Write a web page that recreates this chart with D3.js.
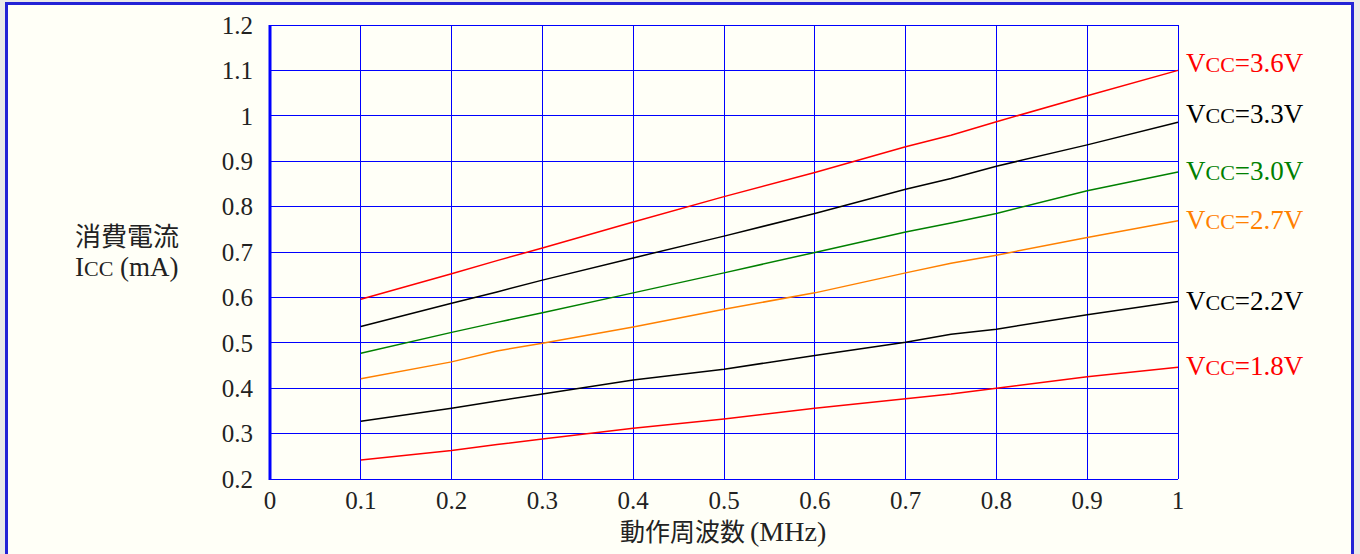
<!DOCTYPE html>
<html>
<head>
<meta charset="utf-8">
<script src="https://cdn.jsdelivr.net/npm/d3@7"></script>
<style>
  html, body { margin: 0; padding: 0; background: #e9e9e9; }
  svg { display: block; }
  text { font-family: "Liberation Serif", "Noto Sans CJK JP", serif; fill: #222; }
  .jp { font-family: "Noto Sans CJK JP", sans-serif; }
</style>
</head>
<body>
<svg id="chart" width="1360" height="554"></svg>
<script>
// operating frequency (MHz)
const freq = [0.1, 0.2, 0.25, 0.3, 0.4, 0.5, 0.6, 0.7, 0.75, 0.8, 0.9, 1.0];

// supply current Icc (mA) for each Vcc
const vcc36 = [0.596, 0.652, 0.681, 0.709, 0.766, 0.822, 0.875, 0.932, 0.957, 0.987, 1.044, 1.100];
const vcc33 = [0.536, 0.587, 0.612, 0.638, 0.687, 0.735, 0.785, 0.838, 0.862, 0.889, 0.936, 0.986];
const vcc30 = [0.477, 0.523, 0.545, 0.566, 0.610, 0.654, 0.699, 0.744, 0.764, 0.785, 0.835, 0.876];
const vcc27 = [0.421, 0.458, 0.482, 0.499, 0.535, 0.574, 0.610, 0.654, 0.675, 0.693, 0.732, 0.769];
const vcc22 = [0.327, 0.356, 0.372, 0.387, 0.418, 0.442, 0.472, 0.501, 0.519, 0.530, 0.562, 0.591];
const vcc18 = [0.242, 0.263, 0.276, 0.288, 0.312, 0.332, 0.356, 0.377, 0.387, 0.400, 0.425, 0.446];

const seriesNames = ["3.6V", "3.3V", "3.0V", "2.7V", "2.2V", "1.8V"];
const seriesValues = [vcc36, vcc33, vcc30, vcc27, vcc22, vcc18];

const xTicks = [0, 0.1, 0.2, 0.3, 0.4, 0.5, 0.6, 0.7, 0.8, 0.9, 1];
const yTicks = [0.2, 0.3, 0.4, 0.5, 0.6, 0.7, 0.8, 0.9, 1.0, 1.1, 1.2];

// styling
const colors = ["#ff0000", "#000000", "#008000", "#ff8000", "#000000", "#ff0000"];
const labelNudge = [-8, -9, -2, -1, -1, -2];

const svg = d3.select("#chart");

// panel with blue frame
svg.append("rect")
  .attr("x", 6.5).attr("y", 3.5)
  .attr("width", 1346).attr("height", 560)
  .attr("fill", "#fffff7")
  .attr("stroke", "#2323d6")
  .attr("stroke-width", 3);

const x = d3.scaleLinear().domain([0, 1]).range([270, 1178]);
const y = d3.scaleLinear().domain([0.2, 1.2]).range([479, 25]);

const grid = svg.append("g").attr("shape-rendering", "crispEdges");

// vertical grid
grid.selectAll("line.v")
  .data(xTicks.slice(1))
  .enter().append("line")
  .attr("class", "v")
  .attr("x1", d => x(d)).attr("x2", d => x(d))
  .attr("y1", y(1.2)).attr("y2", y(0.2))
  .attr("stroke", "#0000ff").attr("stroke-width", 1);

// horizontal grid
grid.selectAll("line.h")
  .data(yTicks)
  .enter().append("line")
  .attr("class", "h")
  .attr("x1", x(0)).attr("x2", x(1))
  .attr("y1", d => y(d)).attr("y2", d => y(d))
  .attr("stroke", "#0000ff").attr("stroke-width", 1);

// thick left axis line
svg.append("line")
  .attr("x1", x(0)).attr("x2", x(0))
  .attr("y1", y(1.2)).attr("y2", y(0.2) + 1)
  .attr("stroke", "#0000ff").attr("stroke-width", 3);

// y tick labels
svg.selectAll("text.yt")
  .data(yTicks)
  .enter().append("text")
  .attr("class", "yt")
  .attr("x", 253)
  .attr("y", d => y(d))
  .attr("dy", "0.35em")
  .attr("text-anchor", "end")
  .attr("font-size", 25)
  .text(d => d3.format("")(+d.toFixed(1)));

// x tick labels
svg.selectAll("text.xt")
  .data(xTicks)
  .enter().append("text")
  .attr("class", "xt")
  .attr("x", d => x(d))
  .attr("y", 509)
  .attr("text-anchor", "middle")
  .attr("font-size", 25)
  .text(d => d3.format("")(+d.toFixed(1)));

// lines
const line = d3.line()
  .x((d, i) => x(freq[i]))
  .y(d => y(d));

svg.selectAll("path.series")
  .data(seriesValues)
  .enter().append("path")
  .attr("class", "series")
  .attr("d", line)
  .attr("fill", "none")
  .attr("stroke", (d, i) => colors[i])
  .attr("stroke-width", 1.5);

// series labels
seriesValues.forEach((vals, i) => {
  const t = svg.append("text")
    .attr("x", 1186)
    .attr("y", y(vals[vals.length - 1]) + labelNudge[i])
    .attr("dy", "0.35em")
    .attr("font-size", 27)
    .style("fill", colors[i]);
  t.append("tspan").text("V");
  t.append("tspan").attr("font-size", 22).text("CC");
  t.append("tspan").text("=" + seriesNames[i]);
});

// y axis title
svg.append("text")
  .attr("class", "jp")
  .attr("x", 75).attr("y", 246)
  .attr("font-size", 26)
  .text("消費電流");
const yt = svg.append("text")
  .attr("x", 75).attr("y", 276)
  .attr("font-size", 27);
yt.append("tspan").text("I");
yt.append("tspan").attr("font-size", 22).text("CC");
yt.append("tspan").text(" (mA)");

// x axis title
const xt = svg.append("text")
  .attr("x", 620).attr("y", 541)
  .attr("font-size", 28);
xt.append("tspan").attr("class", "jp").attr("font-size", 25).text("動作周波数");
xt.append("tspan").attr("dx", 5).text("(MHz)");
</script>
</body>
</html>
